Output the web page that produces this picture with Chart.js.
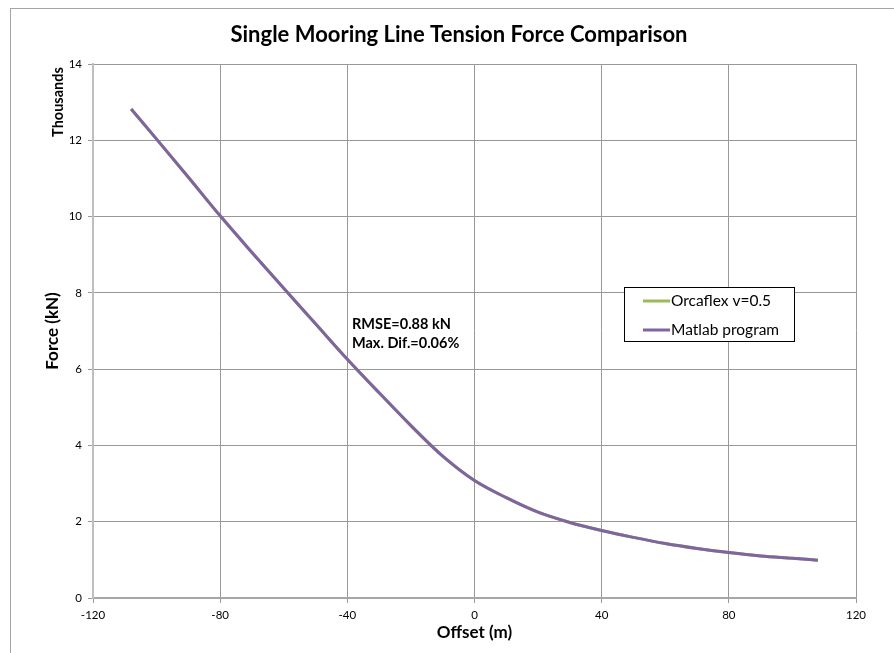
<!DOCTYPE html>
<html>
<head>
<meta charset="utf-8">
<script src="https://cdn.jsdelivr.net/npm/chart.js@4.4.1/dist/chart.umd.min.js"></script>
<style>
html,body{margin:0;padding:0;background:#fff;overflow:hidden;}
#wrap{position:relative;width:894px;height:653px;}
</style>
</head>
<body>
<div id="wrap"><canvas id="c" width="894" height="653"></canvas></div>
<script>
// ---- data (force in thousands of kN as displayed) ----
const offsets = [-108, -100, -90, -80, -70, -60, -50, -40, -30, -20, -10, 0, 10, 20, 30, 40, 50, 60, 70, 80, 90, 100, 108];
const orcaflexForce = [12.82, 12.03, 11.03, 10.02, 9.06, 8.12, 7.19, 6.26, 5.38, 4.52, 3.72, 3.08, 2.63, 2.25, 1.98, 1.77, 1.59, 1.43, 1.3, 1.19, 1.1, 1.04, 0.99];
const matlabForce   = [12.82, 12.03, 11.03, 10.02, 9.06, 8.12, 7.19, 6.26, 5.38, 4.52, 3.72, 3.08, 2.63, 2.25, 1.98, 1.77, 1.59, 1.43, 1.3, 1.19, 1.1, 1.04, 0.99];
const seriesLabels = ['Orcaflex v=0.5', 'Matlab program'];
const seriesColors = ['#9BBB59', '#8064A2'];
const xTicks = [-120, -80, -40, 0, 40, 80, 120];
const yTicks = [0, 2, 4, 6, 8, 10, 12, 14];
const titleText = 'Single Mooring Line Tension Force Comparison';
const annotationLines = ['RMSE=0.88 kN', 'Max. Dif.=0.06%'];

const FONT = 'Lato, "Open Sans", sans-serif';

function pts(xs, ys){ return xs.map((x,i)=>({x:x, y:ys[i]})); }

const decor = {
  id: 'decor',
  beforeDraw(chart){
    const ctx = chart.ctx;
    ctx.save();
    ctx.fillStyle = '#fff';
    ctx.fillRect(0,0,chart.width,chart.height);
    ctx.strokeStyle = '#a6a6a6';
    ctx.lineWidth = 1;
    ctx.strokeRect(10.5, 8.5, 2000, 2000);
    ctx.restore();
  },
  afterDraw(chart){
    const ctx = chart.ctx;
    ctx.save();
    // title
    ctx.fillStyle = '#000';
    ctx.font = 'bold 22px ' + FONT;
    ctx.textAlign = 'center';
    ctx.textBaseline = 'middle';
    ctx.fillText(titleText, 459, 35);
    // Thousands
    ctx.save();
    ctx.translate(58, 102);
    ctx.rotate(-Math.PI/2);
    ctx.font = 'bold 14.5px ' + FONT;
    ctx.fillText('Thousands', 0, 0);
    ctx.restore();
    // annotation
    ctx.font = 'bold 14.5px ' + FONT;
    ctx.textAlign = 'left';
    ctx.fillText(annotationLines[0], 352, 324);
    ctx.fillText(annotationLines[1], 352, 343);
    // legend
    const bx = 624.5, by = 287.5, bw = 170, bh = 54;
    ctx.fillStyle = '#fff';
    ctx.fillRect(bx, by, bw, bh);
    ctx.strokeStyle = '#000';
    ctx.lineWidth = 1;
    ctx.strokeRect(bx, by, bw, bh);
    ctx.font = '15.5px ' + FONT;
    const ys = [301, 330];
    chart.data.datasets.forEach((ds, i) => {
      ctx.strokeStyle = ds.borderColor;
      ctx.lineWidth = 3;
      ctx.beginPath();
      ctx.moveTo(643, ys[i]);
      ctx.lineTo(670, ys[i]);
      ctx.stroke();
      ctx.fillStyle = '#000';
      ctx.fillText(ds.label, 671, ys[i]);
    });
    ctx.restore();
  }
};

new Chart(document.getElementById('c'), {
  type: 'line',
  data: {
    datasets: [
      { label: seriesLabels[0], order: 2, data: pts(offsets, orcaflexForce), borderColor: seriesColors[0], backgroundColor: seriesColors[0], borderWidth: 3, pointRadius: 0, cubicInterpolationMode: 'monotone', fill: false },
      { label: seriesLabels[1], order: 1, data: pts(offsets, matlabForce), borderColor: seriesColors[1], backgroundColor: seriesColors[1], borderWidth: 3, pointRadius: 0, cubicInterpolationMode: 'monotone', fill: false }
    ]
  },
  options: {
    responsive: false,
    animation: false,
    devicePixelRatio: 1,
    layout: { padding: { top: 64, left: 0, right: 38, bottom: 0 } },
    plugins: { legend: { display: false }, title: { display: false }, tooltip: { enabled: false } },
    scales: {
      x: {
        type: 'linear', min: -120, max: 120,
        afterBuildTicks: s => { s.ticks = xTicks.map(v => ({value: v})); },
        afterFit: s => { s.height = 55; },
        ticks: { color: '#000', font: { family: FONT, size: 11.5 }, padding: 5, maxRotation: 0 },
        grid: { color: '#999', lineWidth: 1, tickLength: 5, drawTicks: true },
        border: { color: '#a6a6a6', width: 2 },
        title: { display: true, text: 'Offset (m)', color: '#000', font: { family: FONT, size: 17, weight: 'bold' }, padding: { top: 0, bottom: 10 } }
      },
      y: {
        type: 'linear', min: 0, max: 14,
        afterBuildTicks: s => { s.ticks = yTicks.map(v => ({value: v})); },
        afterFit: s => { s.width = 93; },
        ticks: { color: '#000', font: { family: FONT, size: 11.5 }, padding: 6 },
        grid: { color: '#999', lineWidth: 1, tickLength: 5, drawTicks: true },
        border: { color: '#bfbfbf', width: 2 },
        title: { display: true, text: 'Force (kN)', color: '#000', font: { family: FONT, size: 17, weight: 'bold' }, padding: { top: 42, bottom: 0 } }
      }
    }
  },
  plugins: [decor]
});
</script>
</body>
</html>
